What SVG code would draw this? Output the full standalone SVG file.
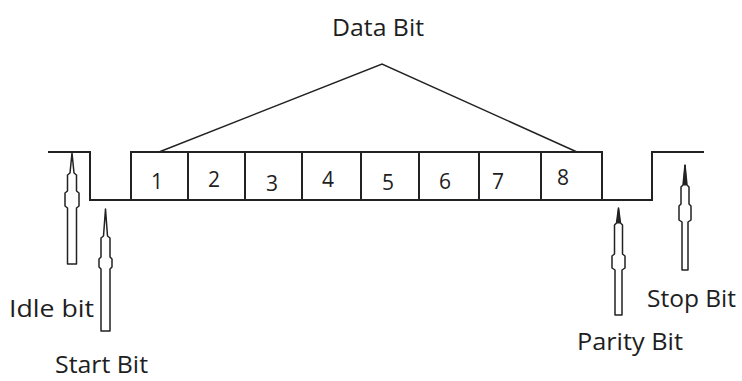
<svg xmlns="http://www.w3.org/2000/svg" width="742" height="381" viewBox="0 0 742 381">
<style>
.ln{fill:none;stroke:#222;stroke-width:2;stroke-linecap:square}
.box{fill:#fff;stroke:#222;stroke-width:2}
.arr{fill:#fff;stroke:#222;stroke-width:1.5;stroke-linejoin:round}
.spk{fill:#222;stroke:#222;stroke-width:1}
.lbl{font-family:"Open Sans","Noto Sans",sans-serif;font-size:23px;fill:#1e1e1e}
.num{font-family:"Open Sans","Noto Sans",sans-serif;font-size:21px;fill:#1e1e1e;text-anchor:middle}
</style>
<rect width="742" height="381" fill="#fff"/>
<g id="waveform">
<polyline class="ln" points="49,152 90,152 90,200 131,200"/>
<polyline class="ln" points="602,200 652,200 652,152 703,152"/>
</g>
<g id="data-bits">
<g id="bit1"><rect class="box" x="131" y="152" width="57" height="48"/><text class="num" x="157" y="189">1</text></g>
<g id="bit2"><rect class="box" x="188" y="152" width="57" height="48"/><text class="num" x="214" y="187">2</text></g>
<g id="bit3"><rect class="box" x="245" y="152" width="57" height="48"/><text class="num" x="272" y="191">3</text></g>
<g id="bit4"><rect class="box" x="302" y="152" width="59" height="48"/><text class="num" x="328" y="187">4</text></g>
<g id="bit5"><rect class="box" x="361" y="152" width="58" height="48"/><text class="num" x="388" y="190">5</text></g>
<g id="bit6"><rect class="box" x="419" y="152" width="60" height="48"/><text class="num" x="445" y="189">6</text></g>
<g id="bit7"><rect class="box" x="479" y="152" width="62" height="48"/><text class="num" x="498" y="189">7</text></g>
<g id="bit8"><rect class="box" x="541" y="152" width="61" height="48"/><text class="num" x="563" y="185">8</text></g>
</g>
<g id="connectors">
<polyline fill="none" stroke="#222" stroke-width="1.5" points="159,152 382,64 577,152"/>
</g>
<g id="data-bit-label"><text class="lbl" x="332" y="36" textLength="92" lengthAdjust="spacingAndGlyphs">Data Bit</text></g>
<g id="idle-bit">
<path class="arr" d="M72,153 L74,173 L76.5,175 L76.5,191 L79,193 L79,206 L76.5,208 L76.5,264 L67.5,264 L67.5,208 L65,206 L65,193 L67.5,191 L67.5,175 L70,173 Z"/>
<text class="lbl" x="9" y="317" textLength="85" lengthAdjust="spacingAndGlyphs">Idle bit</text>
</g>
<g id="start-bit">
<path class="arr" d="M105.5,209 L107.5,236 L110,238 L110,257 L112,259 L112,267 L110,269 L110,331 L101,331 L101,269 L99,267 L99,259 L101,257 L101,238 L103.5,236 Z"/>
<text class="lbl" x="55" y="373" textLength="93" lengthAdjust="spacingAndGlyphs">Start Bit</text>
</g>
<g id="parity-bit">
<path class="arr" d="M618.5,208 L620.5,223 L622.5,225 L622.5,254 L625,256 L625,268 L622,270 L622,315 L615,315 L615,270 L612,268 L612,256 L614.5,254 L614.5,225 L616.5,223 Z"/>
<path class="spk" d="M618.5,208 L620,223 L617,223 Z"/>
<text class="lbl" x="577" y="350" textLength="106" lengthAdjust="spacingAndGlyphs">Parity Bit</text>
</g>
<g id="stop-bit">
<path class="arr" d="M685,165 L687,185 L689,187 L689,204 L691,206 L691,220 L688,222 L688,270 L682,270 L682,222 L679,220 L679,206 L681,204 L681,187 L683,185 Z"/>
<path class="spk" d="M685,165 L686.5,185 L683.5,185 Z"/>
<text class="lbl" x="647" y="307" textLength="89" lengthAdjust="spacingAndGlyphs">Stop Bit</text>
</g>
</svg>
